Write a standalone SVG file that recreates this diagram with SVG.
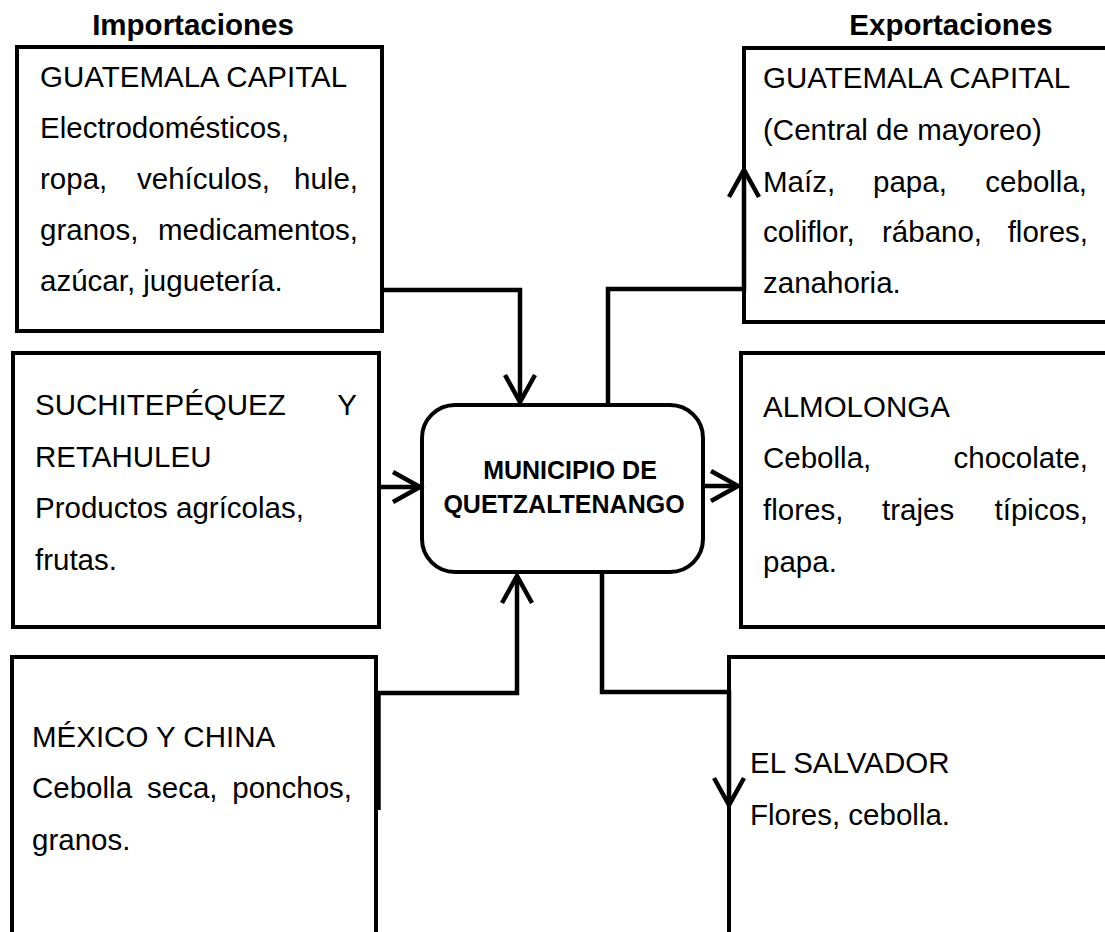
<svg xmlns="http://www.w3.org/2000/svg" width="1105" height="932" viewBox="0 0 1105 932">
<style>
.box{fill:#fff;stroke:#000;stroke-width:4}
.t{font-family:"Liberation Sans",Arial,sans-serif;font-size:29.5px;fill:#000}
.h{font-family:"Liberation Sans",Arial,sans-serif;font-size:29.5px;font-weight:bold;fill:#000}
.c{font-family:"Liberation Sans",Arial,sans-serif;font-size:25px;font-weight:bold;fill:#000;text-anchor:middle}
.e{text-anchor:end}
.con{fill:none;stroke:#000;stroke-width:4.5;marker-end:url(#arr)}
</style>
<defs>
<marker id="arr" markerUnits="userSpaceOnUse" markerWidth="40" markerHeight="40" refX="0" refY="0" viewBox="-32 -20 40 40" orient="auto" overflow="visible">
<path d="M-27,-15 L0,0 L-27,15" fill="none" stroke="#000" stroke-width="4.5"/>
</marker>
</defs>
<rect width="1105" height="932" fill="#fff"/>
<text class="h" x="193" y="35" text-anchor="middle">Importaciones</text>
<text class="h" x="951" y="35" text-anchor="middle">Exportaciones</text>

<g id="tl">
<rect class="box" x="17" y="47" width="365" height="284"/>
<text class="t" x="40" y="87">GUATEMALA CAPITAL</text>
<text class="t" x="40" y="138">Electrodomésticos,</text>
<text class="t" y="189"><tspan x="40">ropa,</tspan><tspan x="137">vehículos,</tspan></text>
<text class="t e" x="358" y="189">hule,</text>
<text class="t" x="40" y="240">granos,</text>
<text class="t e" x="358" y="240">medicamentos,</text>
<text class="t" x="40" y="291">azúcar, juguetería.</text>
</g>

<g id="tr">
<rect class="box" x="744" y="48" width="380" height="274"/>
<text class="t" x="763" y="88">GUATEMALA CAPITAL</text>
<text class="t" x="763" y="140">(Central de mayoreo)</text>
<text class="t" y="192"><tspan x="763">Maíz,</tspan><tspan x="873">papa,</tspan></text>
<text class="t e" x="1087" y="192">cebolla,</text>
<text class="t" y="242"><tspan x="763">coliflor,</tspan><tspan x="882">rábano,</tspan></text>
<text class="t e" x="1088" y="242">flores,</text>
<text class="t" x="763" y="293">zanahoria.</text>
</g>

<g id="ml">
<rect class="box" x="13" y="353" width="366" height="274"/>
<text class="t" x="35" y="415">SUCHITEPÉQUEZ</text>
<text class="t e" x="357" y="415">Y</text>
<text class="t" x="35" y="467">RETAHULEU</text>
<text class="t" x="35" y="518">Productos agrícolas,</text>
<text class="t" x="35" y="570">frutas.</text>
</g>

<g id="mr">
<rect class="box" x="741" y="353" width="380" height="274"/>
<text class="t" x="763" y="417">ALMOLONGA</text>
<text class="t" x="763" y="468">Cebolla,</text>
<text class="t e" x="1088" y="468">chocolate,</text>
<text class="t" y="520"><tspan x="763">flores,</tspan><tspan x="882">trajes</tspan></text>
<text class="t e" x="1088" y="520">típicos,</text>
<text class="t" x="763" y="572">papa.</text>
</g>

<g id="bl">
<rect class="box" x="12" y="657" width="364" height="300"/>
<text class="t" x="32" y="747">MÉXICO Y CHINA</text>
<text class="t" y="798"><tspan x="32">Cebolla</tspan><tspan x="147">seca,</tspan></text>
<text class="t e" x="352" y="798">ponchos,</text>
<text class="t" x="32" y="850">granos.</text>
</g>

<g id="br">
<rect class="box" x="729" y="657" width="400" height="300"/>
<text class="t" x="750" y="773">EL SALVADOR</text>
<text class="t" x="750" y="825">Flores, cebolla.</text>
</g>

<g id="center">
<rect class="box" x="422" y="405" width="281" height="167" rx="33" ry="33"/>
<text class="c" x="570" y="479">MUNICIPIO DE</text>
<text class="c" x="564" y="513">QUETZALTENANGO</text>
</g>

<g id="connectors">
<path class="con" d="M382,290 H520 V402"/>
<path class="con" d="M379,487 H420"/>
<path class="con" d="M378.5,810 V693 H517 V576"/>
<path class="con" d="M608,405 V289 H744 V170"/>
<path class="con" d="M703,486 H738"/>
<path class="con" d="M602,572 V692 H729 V805"/>
</g>
</svg>
